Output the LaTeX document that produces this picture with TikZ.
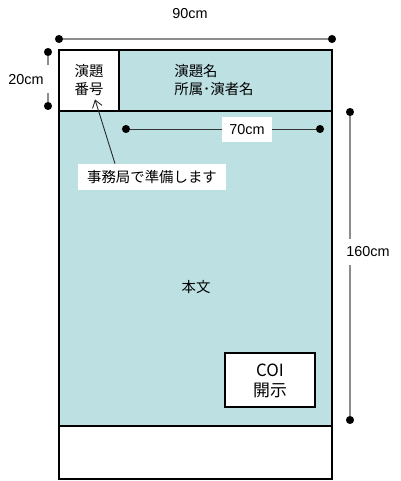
\documentclass[tikz,border=0pt]{standalone}
\usepackage{fontspec}
\setmainfont{Liberation Sans}
\newfontfamily\jpfont{Noto Sans CJK JP}
\usetikzlibrary{arrows.meta,positioning}
\definecolor{posterteal}{RGB}{189,224,227}

\begin{document}
\begin{tikzpicture}[
  x=0.02cm, y=-0.02cm,
  font=\fontsize{8.2}{10.2}\selectfont,
  area/.style={draw=black, line width=0.6pt},
  panel/.style={area, fill=posterteal},
  jp/.style={font=\jpfont\fontsize{8.2}{10.2}\selectfont, align=center},
  tag/.style={fill=white, inner sep=2.5pt},
  dim/.style={draw=black!45, line width=0.6pt},
  measure/.style={draw=black!80, line width=0.5pt},
  dot/.style={circle, fill=black, inner sep=0pt, minimum size=4.6pt},
  flow/.style={-{Straight Barb[length=1.4mm,width=2mm]}, draw=black!85, line width=0.5pt}
]
\useasboundingbox (0,0) rectangle (400,481);

% poster areas
\draw[area, fill=white] (59,50) rectangle (332,479);
\draw[panel] (119,50) rectangle (332,111);
\draw[panel] (59,111) rectangle (332,426);
\draw[area] (59,50) rectangle (119,111);
\draw[area, fill=white] (225,353) rectangle (315,407);

\node[jp, inner sep=2pt] (number) at (89,80) {演題\\番号};
\node[jp, align=left, anchor=west, inner sep=0pt] (title) at (174,80)
  {演題名\\所属･演者名};
\node[jp] (body) at (196,287) {本文};
\node[jp, font=\jpfont\fontsize{9.6}{11.6}\selectfont] (coi) at (270,381) {COI\\開示};

% width of poster
\node (wlabel) at (190,14) {90cm};
\node[dot] (w1) at (59,39) {};
\node[dot] (w2) at (332,39) {};
\draw[dim] (w1) -- (w2);

% height of header
\node (hlabel) at (26,80) {20cm};
\node[dot] (h1) at (48,52) {};
\node[dot] (h2) at (48,106) {};
\draw[dim] (h1) -- ++(0,13);
\draw[dim] (h2) -- ++(0,-13);

% height of body
\node[inner ysep=4.4pt] (vlabel) at (368,252) {160cm};
\node[dot] (v1) at (350,112) {};
\node[dot] (v2) at (350,420) {};
\draw[dim] (v1) -- (v1 |- vlabel.north);
\draw[dim] (v2) -- (v2 |- vlabel.south);

% width of body text
\node[dot] (b1) at (126,129) {};
\node[dot] (b2) at (320,129) {};
\draw[measure] (b1) -- (b2);
\node[tag, inner xsep=4pt, minimum height=0.5cm] (blabel) at (247,129.5) {70cm};

% note
\node[jp, tag, inner xsep=5pt, minimum height=0.52cm] (note) at (152,177)
  {事務局で準備します};
\draw[flow] ([xshift=-0.74cm]note.north) -- ([xshift=0.12cm]number.south);
\end{tikzpicture}
\end{document}
